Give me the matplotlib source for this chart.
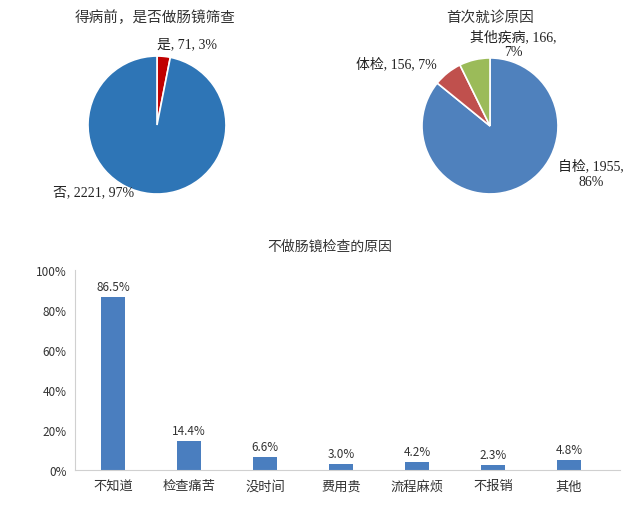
import matplotlib
matplotlib.use("Agg")
import matplotlib.pyplot as plt
import numpy as np

plt.rcParams['font.family'] = ['Noto Sans CJK SC', 'DejaVu Sans']

# Data
pie1_title = "得病前，是否做肠镜筛查"
pie1_labels = ["是", "否"]
pie1_values = [71, 2221]
pie1_pcts = [3, 97]

pie2_title = "首次就诊原因"
pie2_labels = ["自检", "体检", "其他疾病"]
pie2_values = [1955, 156, 166]
pie2_pcts = [86, 7, 7]

bar_title = "不做肠镜检查的原因"
bar_cats = ["不知道", "检查痛苦", "没时间", "费用贵", "流程麻烦", "不报销", "其他"]
bar_vals = [86.5, 14.4, 6.6, 3.0, 4.2, 2.3, 4.8]
ytick_vals = [0, 20, 40, 60, 80, 100]

fig = plt.figure(figsize=(6.4, 5.06), dpi=100)
fig.patch.set_facecolor("white")
serif = ['Liberation Serif', 'Noto Sans CJK SC']
cjk = ['Noto Sans CJK SC', 'DejaVu Sans']

# Left pie
ax1 = fig.add_axes([0.1375, 0.6146, 0.2156, 0.2727])
ax1.pie(pie1_values, colors=["#C00000", "#2E75B6"], startangle=90, counterclock=False,
        wedgeprops=dict(edgecolor="white", linewidth=1.2))
ax1.set_aspect("equal")
ax1.set_xlim(-1, 1); ax1.set_ylim(-1, 1)
fig.text(155/640, 1-18/506, pie1_title, ha="center", va="center", fontsize=10.5, color="#333333",
         family=cjk)
fig.text(157/640, 1-45/506, f"{pie1_labels[0]}, {pie1_values[0]}, {pie1_pcts[0]}%", ha="left",
         va="center", fontsize=10, family=serif, color="#222222")
fig.text(53/640, 1-193/506, f"{pie1_labels[1]}, {pie1_values[1]}, {pie1_pcts[1]}%", ha="left",
         va="center", fontsize=10, family=serif, color="#222222")

# Right pie
ax2 = fig.add_axes([422/640, 0.6146, 0.2125, 0.269])
ax2.pie(pie2_values, colors=["#4F81BD", "#C0504D", "#9BBB59"], startangle=90, counterclock=False,
        wedgeprops=dict(edgecolor="white", linewidth=1.2))
ax2.set_aspect("equal")
ax2.set_xlim(-1, 1); ax2.set_ylim(-1, 1)
fig.text(490/640, 1-18/506, pie2_title, ha="center", va="center", fontsize=10.5, color="#333333",
         family=cjk)
fig.text(513/640, 1-37/506, f"{pie2_labels[2]}, {pie2_values[2]},", ha="center", va="center",
         fontsize=10, family=serif, color="#222222")
fig.text(513/640, 1-53/506, f"{pie2_pcts[2]}%", ha="center", va="center",
         fontsize=10, family=serif, color="#222222")
fig.text(396/640, 1-64/506, f"{pie2_labels[1]}, {pie2_values[1]}, {pie2_pcts[1]}%", ha="center",
         va="center", fontsize=10, family=serif, color="#222222")
fig.text(591/640, 1-166/506, f"{pie2_labels[0]}, {pie2_values[0]},", ha="center", va="center",
         fontsize=10, family=serif, color="#222222")
fig.text(591/640, 1-183/506, f"{pie2_pcts[0]}%", ha="center", va="center",
         fontsize=10, family=serif, color="#222222")

# Bar chart
ax3 = fig.add_axes([75/640, 1-471/506, 545/640, 200/506])
x = np.arange(len(bar_cats))
ax3.bar(x, bar_vals, width=0.32, color="#4A7EBF")
ax3.set_xlim(-0.5, len(bar_cats) - 0.5 + 0.17)
ax3.set_ylim(0, 100)
ax3.set_yticks(ytick_vals)
ax3.set_yticklabels([f"{v}%" for v in ytick_vals], fontsize=8.5, color="#333333")
ax3.set_xticks(x)
ax3.set_xticklabels(bar_cats, fontsize=9.5, color="#333333", family=cjk)
ax3.tick_params(axis="y", length=0, pad=6)
ax3.tick_params(axis="x", length=0, pad=14)
for lab in ax3.get_xticklabels():
    lab.set_verticalalignment("baseline")
for s in ["top", "right"]:
    ax3.spines[s].set_visible(False)
for s in ["left", "bottom"]:
    ax3.spines[s].set_color("#D0D0D0")
for xi, v in zip(x, bar_vals):
    ax3.text(xi, v + 2, f"{v:.1f}%", ha="center", va="bottom", fontsize=8.5, color="#333333")
fig.text(330/640, 1-247/506, bar_title, ha="center", va="center", fontsize=10, color="#333333",
         family=cjk)

fig.savefig("out.png", dpi=100, facecolor="white")
